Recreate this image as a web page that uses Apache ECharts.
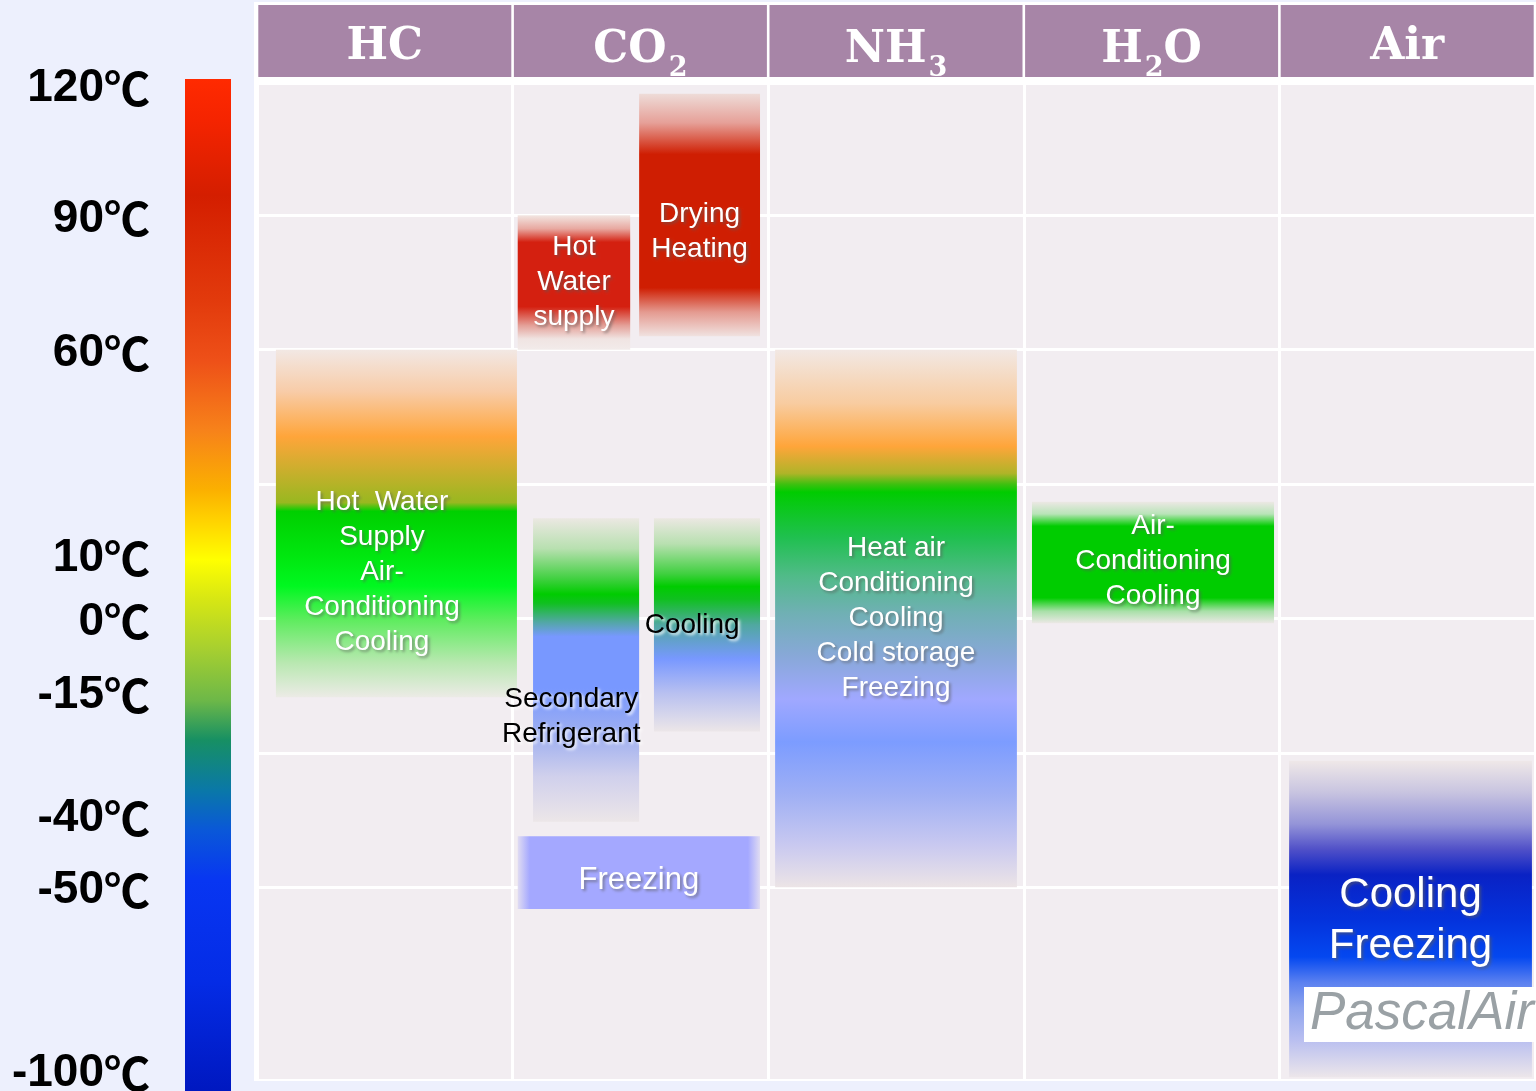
<!DOCTYPE html>
<html>
<head>
<meta charset="utf-8">
<title>Refrigerants and their application temperatures</title>
<script src="https://cdn.jsdelivr.net/npm/echarts@6/dist/echarts.min.js"></script>
<style>
  html, body { margin: 0; padding: 0; background: #edf0fd; }
  #chart { width: 1536px; height: 1091px; }
</style>
</head>
<body>
<div id="chart"></div>
<script>
// columns
const refrigerants = ['HC', 'CO2', 'NH3', 'H2O', 'Air'];

// temperature scale on the left (the scale is not linear)
const tempLabels = ['120℃', '90℃', '60℃', '10℃', '0℃', '-15℃', '-40℃', '-50℃', '-100℃'];
const tempValues = [120, 90, 60, 10, 0, -15, -40, -50, -100];
// row of the table each temperature is printed at
const tempRows = [3.97, 3, 2, 0.47, 0, -0.55, -1.46, -2, -3.36];
// horizontal cell borders
const gridRows = [3, 2, 1, 0, -1, -2];

// applications
const useGas = ['HC', 'CO2', 'CO2', 'CO2', 'CO2', 'CO2', 'NH3', 'H2O', 'Air'];
const useName = [
  'Hot  Water\nSupply\nAir-\nConditioning\nCooling',
  'Hot\nWater\nsupply',
  'Drying\nHeating',
  'Secondary\nRefrigerant',
  'Cooling',
  'Freezing',
  'Heat air\nConditioning\nCooling\nCold storage\nFreezing',
  'Air-\nConditioning\nCooling',
  'Cooling\nFreezing'
];
const useHigh = [60, 90, 118, 19, 19, -43, 60, 23, -29];
const useLow = [-16, 60, 63, -41, -23, -56, -50, -1, -102];

// where each block sits inside its column + how it is painted
const useLayout = [
  { from: 0.074, to: 1.017, lx: 0.44, ly: 0.64, stops: [[0, '#f2e8e4'], [0.12, '#f8cca8'], [0.25, '#ffa53a'], [0.44, '#98b820'], [0.465, '#00d000'], [0.6, '#00e810'], [0.68, '#00f820'], [0.78, '#60ec60'], [0.9, '#b8e8b0'], [1, '#ecebe6']] },
  { from: 0.02, to: 0.46, lx: 0.5, ly: 0.5, stops: [[0, '#f2e6e2'], [0.1, '#e8a8a0'], [0.2, '#d42010'], [0.68, '#d42010'], [0.82, '#e4a098'], [0.92, '#f0e4e2'], [1, '#f2ebea']] },
  { from: 0.495, to: 0.968, lx: 0.5, ly: 0.57, stops: [[0, '#eedcd8'], [0.12, '#e6a098'], [0.25, '#cf1e02'], [0.8, '#cf1e02'], [0.9, '#e49a90'], [1, '#f0e2e0']] },
  { from: 0.08, to: 0.495, lx: 0.36, ly: 0.655, ink: '#000', stops: [[0, '#ebe8e2'], [0.1, '#b8e0b0'], [0.2, '#40d040'], [0.25, '#00cc00'], [0.28, '#10c020'], [0.34, '#50a8a0'], [0.39, '#7898ff'], [0.56, '#7898ff'], [0.72, '#a0b0f0'], [0.85, '#d0d0ec'], [1, '#ece6e8']] },
  { from: 0.553, to: 0.968, lx: 0.36, ly: 0.5, ink: '#000', stops: [[0, '#ebe8e2'], [0.12, '#b8e0b0'], [0.26, '#40d040'], [0.32, '#00cc00'], [0.38, '#10c020'], [0.5, '#50a8a0'], [0.66, '#7898ff'], [0.82, '#b8c0f0'], [1, '#ece6e8']] },
  { from: 0.02, to: 0.968, lx: 0.5, ly: 0.6, size: 31, dir: 'x', stops: [[0, '#e0dcf2'], [0.05, '#a4a8ff'], [0.95, '#a4a8ff'], [1, '#e0dcf2']] },
  { from: 0.027, to: 0.973, lx: 0.5, ly: 0.5, stops: [[0, '#f2e8e4'], [0.1, '#f8cca0'], [0.18, '#ffa53a'], [0.23, '#b0b428'], [0.25, '#40c010'], [0.265, '#00cc00'], [0.35, '#20c050'], [0.42, '#50bb88'], [0.49, '#70b0b4'], [0.57, '#88a8d8'], [0.65, '#a0a8ff'], [0.73, '#7c9cff'], [0.83, '#a0b0f4'], [0.92, '#c8c8f0'], [1, '#ece4e6']] },
  { from: 0.032, to: 0.979, lx: 0.5, ly: 0.49, stops: [[0, '#ece8e4'], [0.1, '#b8e4b8'], [0.2, '#00cc00'], [0.79, '#00cc00'], [0.9, '#a8e0a8'], [1, '#ece8e6']] },
  { from: 0.038, to: 0.988, lx: 0.5, ly: 0.505, size: 42, lh: 51, stops: [[0, '#efe8e8'], [0.1, '#c8c4e0'], [0.2, '#9494d8'], [0.28, '#5050c8'], [0.36, '#0a22c4'], [0.5, '#0432dc'], [0.62, '#0448f0'], [0.7, '#5a80f0'], [0.78, '#8ea4ee'], [0.88, '#b8bef0'], [1, '#ece6ea']] }
];

const scaleStops = [
  [0, '#ff2a00'], [0.04, '#f52400'], [0.115, '#d41e00'], [0.218, '#e23a0c'], [0.278, '#ee5018'],
  [0.347, '#f7821a'], [0.406, '#fbb000'], [0.436, '#ffd200'], [0.475, '#ffff00'], [0.515, '#d6e614'],
  [0.564, '#a6cf30'], [0.614, '#6db848'], [0.653, '#179063'], [0.703, '#0a78a8'], [0.742, '#0a58d8'],
  [0.792, '#0836f2'], [0.89, '#042ce6'], [1, '#0018c0']
];

// temperature -> table row, piecewise linear between the printed temperatures
function rowOf(t) {
  let i = 0;
  while (i < tempValues.length - 2 && t < tempValues[i + 1]) i++;
  const t0 = tempValues[i], t1 = tempValues[i + 1];
  return tempRows[i] + (t - t0) / (t1 - t0) * (tempRows[i + 1] - tempRows[i]);
}

const yMax = rowOf(120);
const yMin = rowOf(-102.5);

const gradient = (stops, horiz) => new echarts.graphic.LinearGradient(
  0, 0, horiz ? 1 : 0, horiz ? 0 : 1,
  stops.map(s => ({ offset: s[0], color: s[1] }))
);

const useData = useGas.map((g, i) => [refrigerants.indexOf(g), rowOf(useHigh[i]), rowOf(useLow[i])]);

function renderUse(params, api) {
  const i = params.dataIndex;
  const lay = useLayout[i];
  const col = api.value(0);
  const tl = api.coord([col + lay.from, api.value(1)]);
  const br = api.coord([col + lay.to, api.value(2)]);
  const w = br[0] - tl[0], h = br[1] - tl[1];
  const dark = lay.ink === '#000';
  return {
    type: 'group',
    children: [
      {
        type: 'rect',
        shape: { x: tl[0], y: tl[1], width: w, height: h },
        style: { fill: gradient(lay.stops, lay.dir === 'x') }
      },
      {
        type: 'text',
        x: tl[0] + w * lay.lx,
        y: tl[1] + h * lay.ly,
        style: {
          text: useName[i],
          align: 'center',
          verticalAlign: 'middle',
          fill: lay.ink || '#fff',
          fontFamily: "'Liberation Sans', Arial, sans-serif",
          fontSize: lay.size || 28,
          lineHeight: lay.lh || 35,
          textShadowColor: dark ? 'rgba(255,255,255,0.9)' : 'rgba(90,90,90,0.6)',
          textShadowBlur: 3,
          textShadowOffsetX: 2,
          textShadowOffsetY: 2
        }
      }
    ]
  };
}

const chart = echarts.init(document.getElementById('chart'));

chart.setOption({
  animation: false,
  backgroundColor: '#edf0fd',
  title: {
    text: 'PascalAir',
    left: 1304,
    top: 987,
    backgroundColor: '#fff',
    padding: [0, 30, 0, 6],
    textStyle: {
      fontFamily: "'Liberation Sans', Arial, sans-serif",
      fontStyle: 'italic',
      fontWeight: 'normal',
      fontSize: 53,
      lineHeight: 55,
      color: '#9aa1a5'
    }
  },
  grid: [
    // white frame behind header + table
    { left: 254, right: 0, top: 2, bottom: 10, show: true, backgroundColor: '#fff', borderWidth: 0, outerBoundsMode: 'none' },
    // table cells
    { left: 257, right: 1, top: 85, bottom: 12, show: true, backgroundColor: '#f2edf1', borderWidth: 0, outerBoundsMode: 'none', containLabel: false },
    // colour scale
    { left: 185, width: 46, top: 79, bottom: 0, outerBoundsMode: 'none' }
  ],
  xAxis: [
    { gridIndex: 0, type: 'value', show: false },
    {
      gridIndex: 1,
      type: 'category',
      position: 'top',
      data: refrigerants,
      axisLine: { show: false },
      axisTick: { show: false },
      splitLine: { show: true, lineStyle: { color: '#fff', width: 3 } },
      axisLabel: {
        interval: 0,
        margin: 8,
        formatter: name => '{m|' + name.replace(/(\d)/g, '}{s|$1}{m|') + '}',
        backgroundColor: '#a785a7',
        width: 253,
        height: 58,
        padding: [14, 0, 0, 0],
        align: 'center',
        rich: {
          m: { fontFamily: "'DejaVu Serif', serif", fontWeight: 'bold', fontSize: 44, color: '#fff', lineHeight: 58 },
          s: { fontFamily: "'DejaVu Serif', serif", fontWeight: 'bold', fontSize: 27, color: '#fff', padding: [36, 0, 0, 2] }
        }
      }
    },
    { gridIndex: 1, type: 'value', min: 0, max: refrigerants.length, show: false },
    { gridIndex: 2, type: 'category', data: [''], show: false }
  ],
  yAxis: [
    { gridIndex: 0, type: 'value', show: false },
    {
      gridIndex: 1,
      type: 'value',
      min: yMin,
      max: yMax,
      axisLine: { show: false },
      axisTick: { show: false, customValues: gridRows },
      splitLine: { show: true, lineStyle: { color: '#fff', width: 3 } },
      axisLabel: {
        customValues: tempRows,
        margin: 107,
        padding: [7, 0, 0, 0],
        formatter: v => {
          let best = 0;
          tempRows.forEach((r, k) => { if (Math.abs(r - v) < Math.abs(tempRows[best] - v)) best = k; });
          return '{n|' + tempLabels[best].replace('℃', '') + '}{c|℃}';
        },
        rich: {
          n: { color: '#000', fontWeight: 'bold', fontSize: 46, fontFamily: "'Liberation Sans', Arial, sans-serif" },
          c: { color: '#000', fontWeight: 'bold', fontSize: 46, fontFamily: "'Noto Sans CJK SC', sans-serif" }
        }
      }
    },
    { gridIndex: 2, type: 'value', min: 0, max: 1, show: false }
  ],
  series: [
    {
      type: 'bar',
      xAxisIndex: 3,
      yAxisIndex: 2,
      barWidth: '100%',
      silent: true,
      data: [1],
      itemStyle: { color: gradient(scaleStops) }
    },
    {
      type: 'custom',
      xAxisIndex: 2,
      yAxisIndex: 1,
      renderItem: renderUse,
      encode: { x: 0, y: [1, 2] },
      data: useData
    }
  ]
});
</script>
</body>
</html>
